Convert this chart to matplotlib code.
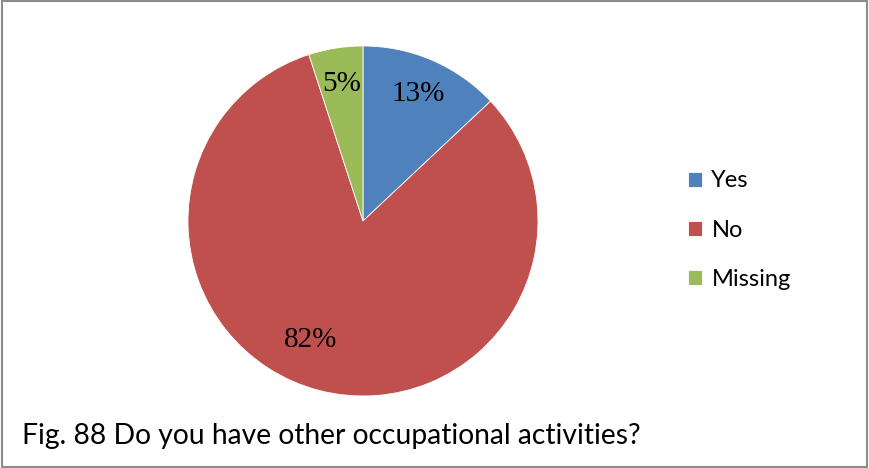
import matplotlib.pyplot as plt
from matplotlib.patches import Rectangle

labels = ['Yes', 'No', 'Missing']
values = [13, 82, 5]
colors = ['#4F81BD', '#C0504D', '#9BBB59']
caption = 'Fig. 88 Do you have other occupational activities?'

fig = plt.figure(figsize=(8.69, 4.68), dpi=100)

# outer border
fig.patches.append(Rectangle((0.002, 0.003), 0.996, 0.994, transform=fig.transFigure,
                             fill=False, edgecolor='#8c8c8c', linewidth=1.5))

ax = fig.add_axes([0.2163, 0.1538, 0.4028, 0.748])
wedges, texts, autotexts = ax.pie(values, colors=colors, startangle=90, counterclock=False,
                                  autopct='%d%%', pctdistance=0.79, radius=1,
                                  wedgeprops={'edgecolor': 'white', 'linewidth': 0.6},
                                  textprops={'family': 'Liberation Serif', 'fontsize': 21})
# excel puts the big slice label a bit further left
autotexts[1].set_position((-0.30, -0.68))
ax.set_xlim(-1, 1)
ax.set_ylim(-1, 1)
ax.set_aspect('equal')

fig.legend(wedges, labels, loc='center left', bbox_to_anchor=(0.767, 0.508),
           frameon=False, prop={'family': 'Lato', 'size': 17},
           handlelength=0.6, handleheight=0.6, handletextpad=0.4, labelspacing=1.2)

fig.text(0.025, 0.068, caption, family='Lato', fontsize=20.3, va='center')

plt.savefig('out.png', dpi=100)
